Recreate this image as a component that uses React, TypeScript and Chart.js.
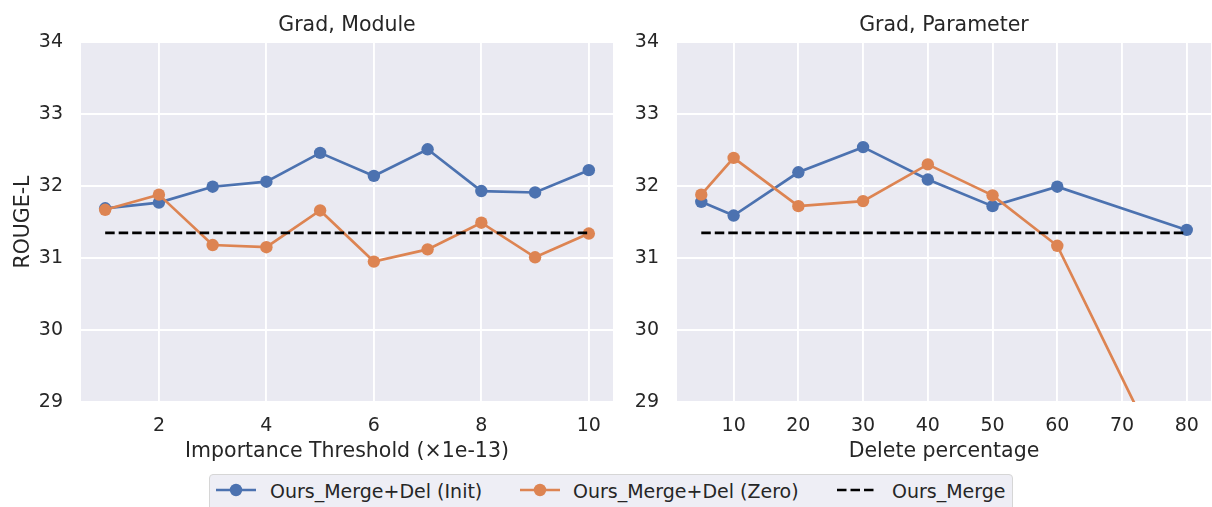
import React, { useEffect, useRef } from "react";
import { Chart, registerables } from "chart.js";

Chart.register(...registerables);

// ---------------- data ----------------
const moduleThresholds = [1, 2, 3, 4, 5, 6, 7, 8, 9, 10];
const moduleInit = [31.69, 31.77, 31.99, 32.06, 32.46, 32.14, 32.51, 31.93, 31.91, 32.22];
const moduleZero = [31.67, 31.88, 31.18, 31.15, 31.66, 30.95, 31.12, 31.49, 31.01, 31.34];

const paramPercents = [5, 10, 20, 30, 40, 50, 60, 80];
const paramInit = [31.78, 31.59, 32.19, 32.54, 32.09, 31.72, 31.99, 31.39];
const paramZero = [31.88, 32.39, 31.72, 31.79, 32.3, 31.87, 31.17, 27.5];

const oursMerge = 31.35;

const yTicks = [29, 30, 31, 32, 33, 34];
const moduleXTicks = [2, 4, 6, 8, 10];
const paramXTicks = [10, 20, 30, 40, 50, 60, 70, 80];

const seriesNames = ["Ours_Merge+Del (Init)", "Ours_Merge+Del (Zero)", "Ours_Merge"];

// ---------------- style ----------------
const W = 1212;
const H = 507;
const TEXT = "#262626";
const FONT = "'DejaVu Sans', sans-serif";
const BLUE = "#4C72B0";
const ORANGE = "#DD8452";
const BG = "#EAEAF2";
const AREA_TOP = 42;
const AREA_BOTTOM = 402;
const XH = 62;

const bgPlugin = {
  id: "panelBg",
  beforeDraw(chart: any) {
    const { ctx, chartArea: a } = chart;
    ctx.save();
    ctx.fillStyle = BG;
    ctx.fillRect(a.left, a.top, a.right - a.left, a.bottom - a.top);
    ctx.restore();
  },
};

const titlePlugin = (title: string) => ({
  id: "panelTitle",
  afterDraw(chart: any) {
    const { ctx, chartArea: a } = chart;
    ctx.save();
    ctx.font = `20.5px ${FONT}`;
    ctx.fillStyle = TEXT;
    ctx.textAlign = "center";
    ctx.textBaseline = "alphabetic";
    ctx.fillText(title, (a.left + a.right) / 2, 31);
    ctx.restore();
  },
});

interface PanelProps {
  title: string;
  xs: number[];
  init: number[];
  zero: number[];
  xMin: number;
  xMax: number;
  xTicks: number[];
  xLabel: string;
  yLabel?: string;
  left: number;
  right: number;
  yW: number;
}

function buildConfig(p: PanelProps): any {
  const pts = (ys: number[]) => p.xs.map((x, i) => ({ x, y: ys[i] }));
  const lineDs = (label: string, ys: number[], color: string, order: number) => ({
    label,
    data: pts(ys),
    borderColor: color,
    backgroundColor: color,
    pointBackgroundColor: color,
    pointBorderColor: color,
    borderWidth: 2.7,
    pointRadius: 6.2,
    pointHoverRadius: 6.2,
    pointBorderWidth: 0,
    order,
  });
  return {
    type: "line",
    data: {
      datasets: [
        lineDs(seriesNames[0], p.init, BLUE, 3),
        lineDs(seriesNames[1], p.zero, ORANGE, 2),
        {
          label: seriesNames[2],
          data: [
            { x: p.xs[0], y: oursMerge },
            { x: p.xs[p.xs.length - 1], y: oursMerge },
          ],
          borderColor: "#000000",
          backgroundColor: "#000000",
          borderDash: [9.5, 4],
          borderWidth: 2.7,
          pointRadius: 0,
          pointHoverRadius: 0,
          order: 1,
        },
      ],
    },
    options: {
      animation: false,
      responsive: false,
      devicePixelRatio: 1,
      events: [],
      layout: {
        autoPadding: false,
        padding: {
          left: p.left - p.yW,
          right: W - p.right,
          top: AREA_TOP,
          bottom: H - AREA_BOTTOM - XH,
        },
      },
      plugins: {
        legend: { display: false },
        tooltip: { enabled: false },
        title: { display: false },
      },
      scales: {
        x: {
          type: "linear",
          min: p.xMin,
          max: p.xMax,
          afterBuildTicks: (s: any) => {
            s.ticks = p.xTicks.map((v) => ({ value: v }));
          },
          afterFit: (s: any) => {
            s.height = XH;
            s.paddingLeft = 0;
            s.paddingRight = 0;
          },
          grid: { color: "#ffffff", lineWidth: 1.9, drawTicks: false },
          border: { display: false },
          ticks: {
            font: { family: FONT, size: 19 },
            color: TEXT,
            padding: 13,
            maxRotation: 0,
            autoSkip: false,
          },
          title: {
            display: true,
            text: p.xLabel,
            font: { family: FONT, size: 20.5 },
            color: TEXT,
            padding: { top: 0, bottom: 0 },
          },
        },
        y: {
          type: "linear",
          min: 29,
          max: 34,
          afterBuildTicks: (s: any) => {
            s.ticks = yTicks.map((v) => ({ value: v }));
          },
          afterFit: (s: any) => {
            s.width = p.yW;
            s.paddingTop = 0;
            s.paddingBottom = 0;
          },
          grid: { color: "#ffffff", lineWidth: 1.9, drawTicks: false },
          border: { display: false },
          ticks: {
            font: { family: FONT, size: 19 },
            color: TEXT,
            padding: 18,
            autoSkip: false,
          },
          title: {
            display: !!p.yLabel,
            text: p.yLabel || "",
            font: { family: FONT, size: 20.5 },
            color: TEXT,
            padding: { top: 11, bottom: 0 },
          },
        },
      },
    },
    plugins: [bgPlugin, titlePlugin(p.title)],
  };
}

function Panel(props: PanelProps) {
  const ref = useRef<HTMLCanvasElement>(null);
  useEffect(() => {
    const chart = new Chart(ref.current as HTMLCanvasElement, buildConfig(props));
    return () => chart.destroy();
  }, []);
  return (
    <canvas
      ref={ref}
      width={W}
      height={H}
      style={{ position: "absolute", left: 0, top: 0, width: W, height: H }}
    />
  );
}

function Handle({ color, dashed }: { color: string; dashed?: boolean }) {
  return (
    <svg width={40} height={14} style={{ display: "block" }}>
      <line
        x1={0}
        y1={7}
        x2={40}
        y2={7}
        stroke={color}
        strokeWidth={2.7}
        strokeDasharray={dashed ? "9.5 4" : undefined}
      />
      {!dashed && <circle cx={20} cy={7} r={6.2} fill={color} />}
    </svg>
  );
}

function Legend() {
  const items = [
    { h: 6, t: 60, color: BLUE, dashed: false, label: seriesNames[0] },
    { h: 310, t: 363, color: ORANGE, dashed: false, label: seriesNames[1] },
    { h: 627, t: 682, color: "#000000", dashed: true, label: seriesNames[2] },
  ];
  return (
    <div
      style={{
        position: "absolute",
        left: 209,
        top: 474,
        width: 804,
        height: 44,
        boxSizing: "border-box",
        border: "1px solid #d6d6d6",
        borderRadius: 4,
        background: "#eeeef5",
      }}
    >
      {items.map((it, i) => (
        <React.Fragment key={i}>
          <div style={{ position: "absolute", left: it.h, top: 8.3 }}>
            <Handle color={it.color} dashed={it.dashed} />
          </div>
          <div
            style={{
              position: "absolute",
              left: it.t,
              top: 5.6,
              fontFamily: FONT,
              fontSize: 19,
              lineHeight: "20px",
              color: TEXT,
              whiteSpace: "nowrap",
            }}
          >
            {it.label}
          </div>
        </React.Fragment>
      ))}
    </div>
  );
}

export default function App() {
  return (
    <div
      style={{
        position: "fixed",
        left: 0,
        top: 0,
        width: W,
        height: H,
        overflow: "hidden",
        background: "#ffffff",
      }}
    >
      <Panel
        title="Grad, Module"
        xs={moduleThresholds}
        init={moduleInit}
        zero={moduleZero}
        xMin={0.55}
        xMax={10.45}
        xTicks={moduleXTicks}
        xLabel="Importance Threshold (×1e-13)"
        yLabel="ROUGE-L"
        left={81}
        right={613}
        yW={81}
      />
      <Panel
        title="Grad, Parameter"
        xs={paramPercents}
        init={paramInit}
        zero={paramZero}
        xMin={1.25}
        xMax={83.75}
        xTicks={paramXTicks}
        xLabel="Delete percentage"
        left={677}
        right={1211}
        yW={60}
      />
      <Legend />
    </div>
  );
}
